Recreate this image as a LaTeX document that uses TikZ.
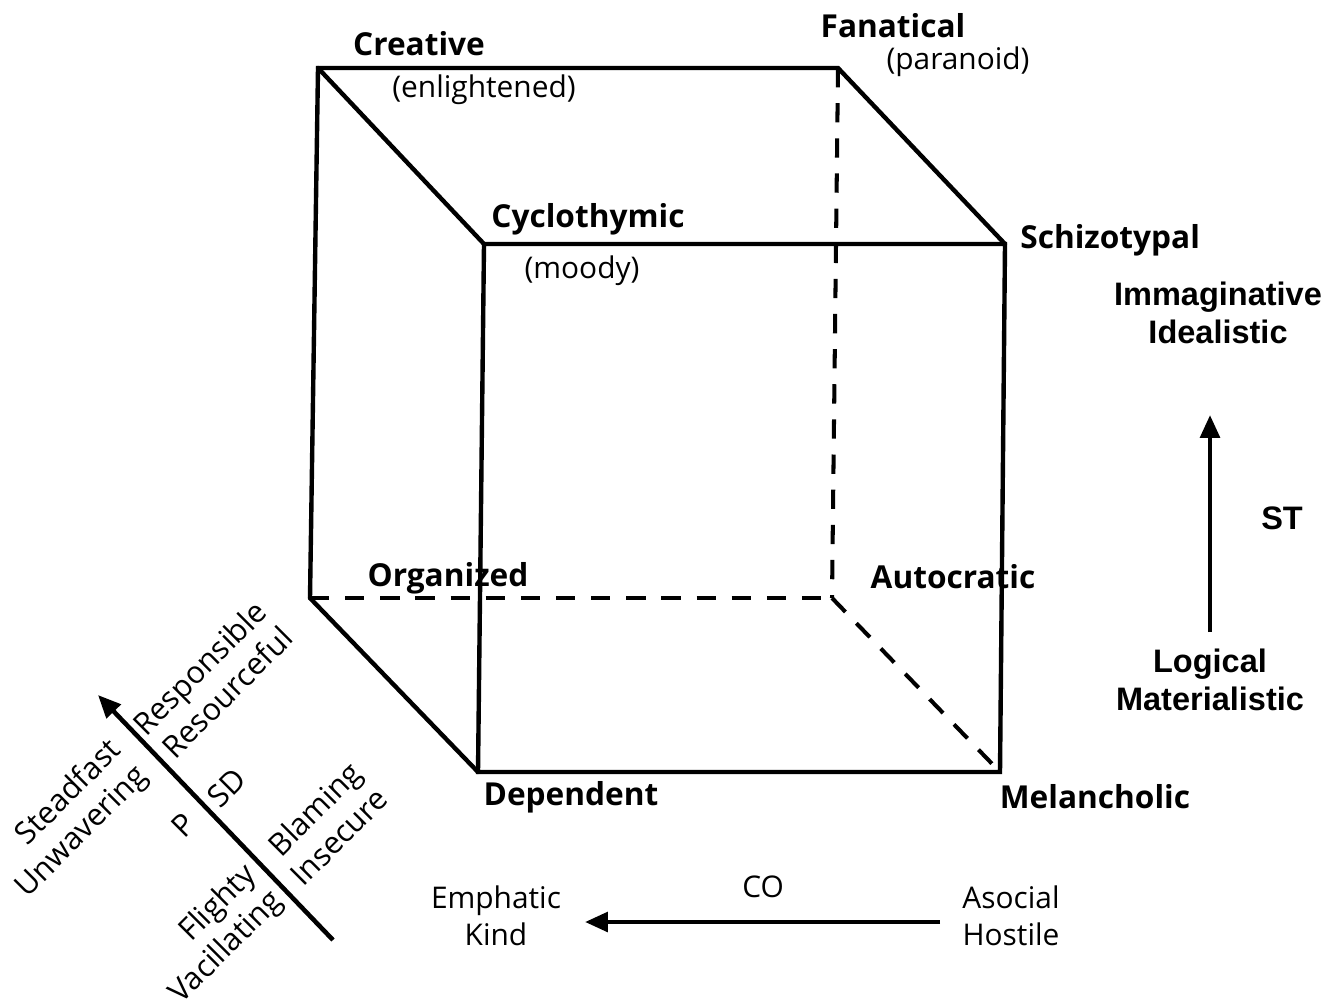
\documentclass[tikz,border=0pt]{standalone}
\usepackage{fontspec}
\setmainfont{Open Sans}
\newfontfamily\arialfont{Liberation Sans}
\usetikzlibrary{arrows.meta}
\begin{document}
\begin{tikzpicture}[x=0.02cm,y=-0.02cm,
 edge/.style={line width=2.5pt, line cap=round, line join=miter},
 hidden/.style={line width=2.3pt, dash pattern=on 11pt off 9pt},
 corner/.style={font=\fontsize{18}{21}\selectfont\bfseries, inner sep=0},
 paren/.style={font=\fontsize{17}{20}\selectfont, inner sep=0},
 axislab/.style={font=\fontsize{17}{21}\selectfont, inner sep=0, align=center},
 rlab/.style={font=\arialfont\bfseries\fontsize{18.5}{22}\selectfont, inner sep=0, align=center},
 rot/.style={font=\fontsize{17.5}{21}\selectfont, inner sep=0, rotate=45, align=right, anchor=east},
 axis/.style={line width=2.6pt, -{Triangle[length=13pt,width=11pt]}}
]
\useasboundingbox (0,0) rectangle (1341,1007);
% cube corners
\coordinate (BTL) at (318,68);
\coordinate (BTR) at (838,68);
\coordinate (FTL) at (484,244);
\coordinate (FTR) at (1005,244);
\coordinate (BBL) at (310,598);
\coordinate (BBR) at (832,598);
\coordinate (FBL) at (478,772);
\coordinate (FBR) at (1000,772);
% hidden edges
\draw[hidden] (BTR) -- (BBR);
\draw[hidden] (BBL) -- (BBR);
\draw[hidden] (BBR) -- (FBR);
% visible edges
\draw[edge] (BBL) -- (BTL) -- (BTR) -- (FTR);
\draw[edge] (BTL) -- (FTL);
\draw[edge] (FTL) -- (FTR) -- (FBR) -- (FBL) -- cycle;
\draw[edge] (BBL) -- (FBL);
% corner labels
\node[corner] (creative) at (419,44) {Creative};
\node[paren] (enl) at (484,90) {(enlightened)};
\node[corner] (fanatical) at (893,26) {Fanatical};
\node[paren] (para) at (958,62) {(paranoid)};
\node[corner] (cyclo) at (588,219) {Cyclothymic};
\node[paren] (moody) at (582,271) {(moody)};
\node[corner, anchor=west] (schizo) at (1020,240) {Schizotypal};
\node[corner] (organized) at (448,578) {Organized};
\node[corner] (autocratic) at (953,577) {Autocratic};
\node[corner] (dependent) at (571,797) {Dependent};
\node[corner] (melan) at (1095,797) {Melancholic};
% ST axis
\coordinate (STs) at (1210,632);
\coordinate (STe) at (1210,415);
\draw[axis] (STs) -- (STe);
\node[rlab] (imag) at (1218,313) {Immaginative\\Idealistic};
\node[rlab] (logic) at (1210,680) {Logical\\Materialistic};
\node[rlab] (st) at (1282,518) {ST};
% CO axis
\coordinate (COs) at (940,922);
\coordinate (COe) at (585,922);
\draw[axis] (COs) -- (COe);
\node[axislab] (co) at (763,887) {CO};
\node[axislab] (emph) at (496,916) {Emphatic\\Kind};
\node[axislab] (asoc) at (1011,916) {Asocial\\Hostile};
% P / SD axis
\coordinate (Ps) at (333,940);
\coordinate (Pe) at (98,695);
\draw[axis] (Ps) -- (Pe);
\node[rot] (resp) at (274,619) {Responsible\\Resourceful};
\node[rot] (stead) at (130,759) {Steadfast\\Unwavering};
\node[rot] (blam) at (369,780) {Blaming\\Insecure};
\node[rot] (fli) at (265,884) {Flighty\\Vacillating};
\node[rot, anchor=center] (sd) at (227,788) {SD};
\node[rot, anchor=center] (p) at (183,825) {P};
\end{tikzpicture}
\end{document}
